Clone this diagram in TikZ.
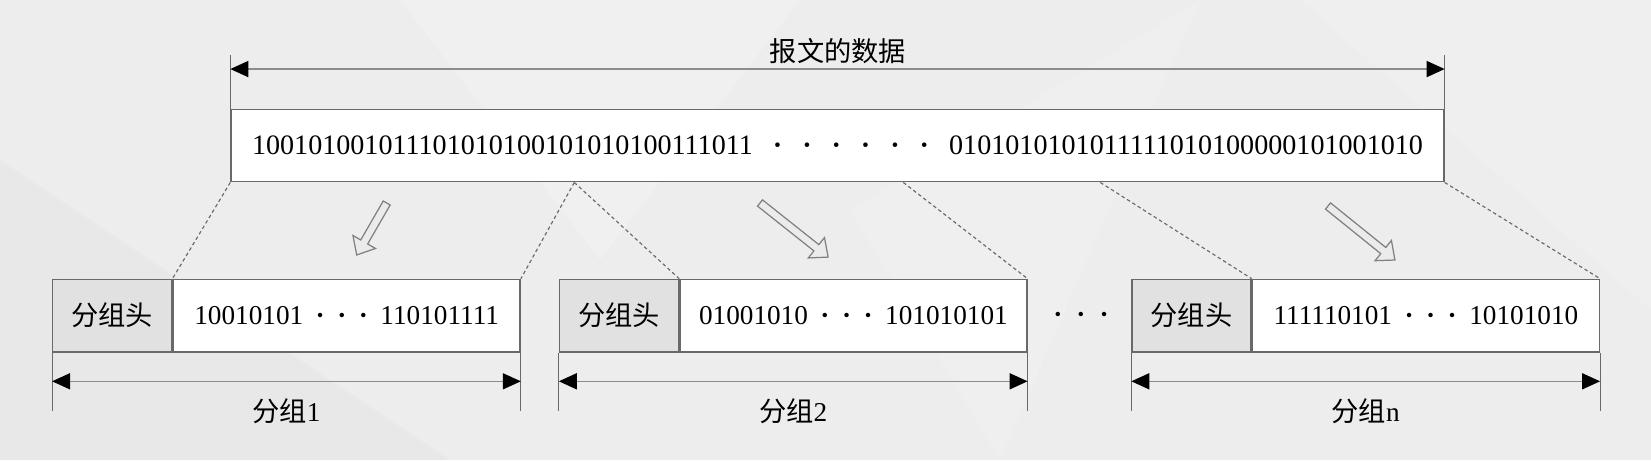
\documentclass[tikz,border=0pt]{standalone}
\usepackage{fontspec}
\setmainfont{Liberation Serif}
\newfontfamily\cjk{Noto Sans CJK SC}
\usetikzlibrary{positioning,calc,arrows.meta}

\definecolor{fond}{RGB}{237,237,237}
\definecolor{trait}{RGB}{105,105,105}
\definecolor{cote}{RGB}{140,140,140}
\definecolor{entete}{RGB}{225,225,225}
\definecolor{fleche}{RGB}{235,235,235}

% points de suspension entre les bits
\newcommand\bdots[2]{\foreach\k in {1,...,#1}{\hspace{#2}\textbf{\textperiodcentered}}\hspace{#2}}
% fleche creuse : queue, angle, longueur
\newcommand\hollowarrow[3]{%
  \draw[hollowarr, shift={(#1)}, rotate=#2] (0,-0.08) -- ({#3-0.3},-0.08) -- ({#3-0.3},-0.26)
    -- (#3,0) -- ({#3-0.3},0.26) -- ({#3-0.3},0.08) -- (0,0.08) -- cycle;}

\tikzset{
  cotetip/.tip={Triangle[length=0.36cm,width=0.32cm,color=black]},
  msgbox/.style={draw=trait, line width=0.8pt, fill=white, minimum height=1.45cm,
    inner sep=0pt, font=\fontsize{16}{18}\selectfont},
  headbox/.style={msgbox, fill=entete, minimum width=2.38cm, font=\cjk\fontsize{15.5}{18}\selectfont},
  bodybox/.style={msgbox, minimum width=6.94cm, font=\fontsize{15.5}{18}\selectfont},
  tick/.style={draw=trait, line width=0.6pt},
  dimarrow/.style={draw=cote, line width=0.9pt, cotetip-cotetip},
  cut/.style={draw=trait, line width=0.65pt, dash pattern=on 2pt off 1.6pt},
  hollowarr/.style={draw=gray, line width=0.7pt, fill=fleche},
  lab/.style={font=\fontsize{15.5}{18}\selectfont}
}

\begin{document}
\begin{tikzpicture}
    % Fond
    \fill[fond] (0,0) rectangle (33.02,9.2);
    \fill[white, opacity=0.18] (8,9.2) -- (16,9.2) -- (12,4) -- cycle;
    \fill[white, opacity=0.15] (26,9.2) -- (33.02,9.2) -- (33.02,3) -- cycle;
    \fill[black, opacity=0.02] (0,0) -- (0,6) -- (9,0) -- cycle;
    \fill[white, opacity=0.12] (17,5) -- (24,9.2) -- (20,0) -- cycle;

    % Message complet
    \node[msgbox, minimum width=24.26cm] (msg) at (16.75,6.29)
        {100101001011101010100101010100111011\bdots{6}{0.4cm}0101010101011111010100000101001010};
    \draw[tick] (msg.north west) -- ++(0,1.08);
    \draw[tick] (msg.north east) -- ++(0,1.08);
    \draw[dimarrow] ($(msg.north west)+(0,0.79)$) -- ($(msg.north east)+(0,0.79)$);
    \node[lab, font=\cjk\fontsize{15.5}{18}\selectfont] (titre) at (16.76,8.17) {报文的数据};

    % Paquet 1
    \node[headbox] (hd1) at (2.245,2.887) {分组头};
    \node[bodybox, right=0pt of hd1] (pk1) {10010101\bdots{3}{0.25cm}110101111};
    \draw[tick] (hd1.south west) -- ++(0,-1.16);
    \draw[tick] (pk1.south east) -- ++(0,-1.16);
    \draw[dimarrow] ($(hd1.south west)+(0,-0.574)$) -- ($(pk1.south east)+(0,-0.574)$);
    \node[lab] (lb1) at ($(hd1.south west)!0.5!(pk1.south east)+(0,-1.17)$) {{\cjk 分组}1};

    % Paquet 2
    \node[headbox] (hd2) at (12.38,2.887) {分组头};
    \node[bodybox, right=0pt of hd2] (pk2) {01001010\bdots{3}{0.25cm}101010101};
    \draw[tick] (hd2.south west) -- ++(0,-1.16);
    \draw[tick] (pk2.south east) -- ++(0,-1.16);
    \draw[dimarrow] ($(hd2.south west)+(0,-0.574)$) -- ($(pk2.south east)+(0,-0.574)$);
    \node[lab] (lb2) at ($(hd2.south west)!0.5!(pk2.south east)+(0,-1.17)$) {{\cjk 分组}2};

    % Paquet n
    \node[headbox] (hd3) at (23.83,2.887) {分组头};
    \node[bodybox, right=0pt of hd3] (pk3) {111110101\bdots{3}{0.25cm}10101010};
    \draw[tick] (hd3.south west) -- ++(0,-1.16);
    \draw[tick] (pk3.south east) -- ++(0,-1.16);
    \draw[dimarrow] ($(hd3.south west)+(0,-0.574)$) -- ($(pk3.south east)+(0,-0.574)$);
    \node[lab] (lb3) at ($(hd3.south west)!0.5!(pk3.south east)+(0,-1.17)$) {{\cjk 分组}n};

    % Paquets omis
    \node[lab] (etc) at (21.62,2.85) {\textbf{\textperiodcentered}\hspace{0.28cm}\textbf{\textperiodcentered}\hspace{0.28cm}\textbf{\textperiodcentered}};

    % Decoupage
    \coordinate (c1) at ([xshift=6.88cm]msg.south west);
    \coordinate (c2) at ([xshift=13.46cm]msg.south west);
    \coordinate (c3) at ([xshift=17.4cm]msg.south west);
    \draw[cut] (msg.south west) -- (hd1.north east);
    \draw[cut] (c1) -- (pk1.north east);
    \draw[cut] (c1) -- (hd2.north east);
    \draw[cut] (c2) -- (pk2.north east);
    \draw[cut] (c3) -- (hd3.north east);
    \draw[cut] (msg.south east) -- (pk3.north east);

    % Fleches creuses
    \hollowarrow{7.734,5.14}{-120}{1.2}
    \hollowarrow{15.2,5.14}{-38.45}{1.74}
    \hollowarrow{26.56,5.08}{-38.9}{1.72}
\end{tikzpicture}
\end{document}
